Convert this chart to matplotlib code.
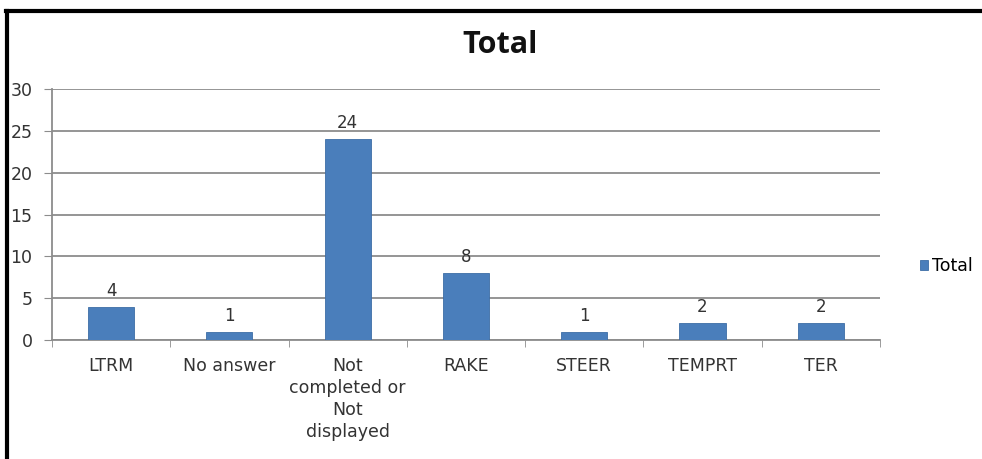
import numpy as np
import matplotlib.pyplot as plt
from matplotlib.lines import Line2D

categories = ['LTRM', 'No answer', 'Not\ncompleted or\nNot\ndisplayed', 'RAKE', 'STEER', 'TEMPRT', 'TER']
values = [4, 1, 24, 8, 1, 2, 2]
yticks = [0, 5, 10, 15, 20, 25, 30]

plt.rcParams['font.family'] = ['DejaVu Sans']
bar_color = '#4a7ebb'
grid_color = '#8c8c8c'
text_color = '#333333'

fig = plt.figure(figsize=(9.82, 4.59), dpi=100)
ax = fig.add_axes([0.053, 0.259, 0.843, 0.547])

x = np.arange(len(categories))
ax.bar(x, values, width=0.39, color=bar_color, edgecolor='#3d6da6', linewidth=0.6, zorder=3, label='Total')

for xi, v in zip(x, values):
    ax.annotate(str(v), (xi, v), xytext=(0, 5), textcoords='offset points',
                ha='center', va='bottom', fontsize=12, color=text_color)

ax.set_xlim(-0.5, len(categories) - 0.5)
ax.set_ylim(0, 30)
ax.set_yticks(yticks)
ax.set_yticklabels([str(t) for t in yticks], fontsize=12.5, color=text_color)
ax.tick_params(axis='y', pad=8, length=6, color=grid_color)
ax.yaxis.grid(True, color=grid_color, linewidth=1.3, zorder=0)

ax.set_xticks(x)
ax.set_xticklabels(categories, fontsize=12.5, color=text_color, va='top', linespacing=1.3)
ax.tick_params(axis='x', length=0, pad=12)
ax.set_xticks(np.arange(len(categories) + 1) - 0.5, minor=True)
ax.tick_params(axis='x', which='minor', length=5, color=grid_color)

for s in ['top', 'right']:
    ax.spines[s].set_visible(False)
for s in ['left', 'bottom']:
    ax.spines[s].set_color(grid_color)
    ax.spines[s].set_linewidth(1.3)

fig.text(0.509, 0.902, 'Total', ha='center', va='center', fontsize=22,
         fontweight='bold', color='#111111', family=['Open Sans', 'DejaVu Sans'])

ax.legend(loc='center left', bbox_to_anchor=(1.03, 0.295), frameon=False,
          handlelength=0.45, handleheight=0.45, handletextpad=0.25, fontsize=12.5)

# outer frame (only top and left edges are visible in the crop)
fig.add_artist(Line2D([0.006, 1.0], [0.976, 0.976], color='black', linewidth=3, transform=fig.transFigure))
fig.add_artist(Line2D([0.007, 0.007], [0.0, 0.976], color='black', linewidth=3, transform=fig.transFigure))

fig.savefig('out.png', dpi=100)
